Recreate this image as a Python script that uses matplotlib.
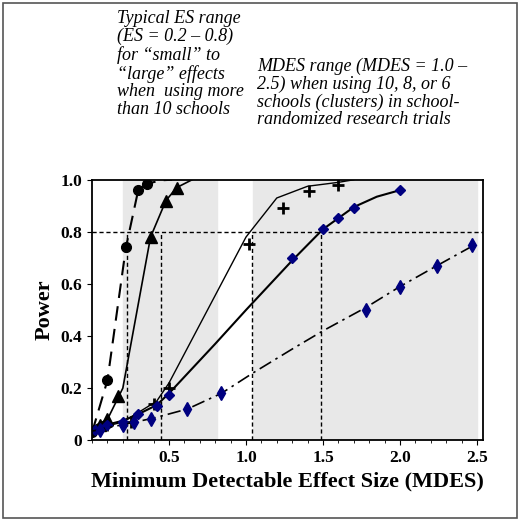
import matplotlib
matplotlib.use("Agg")
import matplotlib.pyplot as plt
from matplotlib.patches import Rectangle

circ_x = [0.0, 0.1, 0.22, 0.30, 0.36]
circ_y = [0.03, 0.23, 0.74, 0.96, 0.985]
circ_lx = [0.0, 0.1, 0.22, 0.30, 0.36, 0.45, 0.52]
circ_ly = [0.03, 0.23, 0.74, 0.96, 0.985, 0.998, 1.0]

tri_x = [0.05, 0.1, 0.17, 0.38, 0.48, 0.55]
tri_y = [0.06, 0.08, 0.17, 0.78, 0.92, 0.97]
tri_lx = [0.0, 0.1, 0.2, 0.38, 0.48, 0.55, 0.65]
tri_ly = [0.05, 0.08, 0.2, 0.78, 0.92, 0.97, 1.0]

plus_x = [0.1, 0.25, 0.4, 0.5, 1.02, 1.24, 1.41, 1.6]
plus_y = [0.06, 0.07, 0.14, 0.20, 0.755, 0.89, 0.955, 0.98]
plus_lx = [0.0, 0.2, 0.42, 0.5, 1.0, 1.2, 1.4, 1.6, 1.7]
plus_ly = [0.04, 0.07, 0.15, 0.22, 0.78, 0.93, 0.975, 0.99, 1.0]

dia_x = [0.02, 0.1, 0.2, 0.3, 0.42, 0.5, 1.3, 1.5, 1.6, 1.7, 2.0]
dia_y = [0.04, 0.06, 0.07, 0.10, 0.13, 0.175, 0.70, 0.81, 0.855, 0.89, 0.96]
dia_lx = [0.0, 0.1, 0.2, 0.3, 0.42, 0.5, 0.8, 1.0, 1.3, 1.5, 1.7, 1.85, 2.0]
dia_ly = [0.04, 0.06, 0.075, 0.10, 0.135, 0.18, 0.37, 0.50, 0.69, 0.81, 0.895, 0.935, 0.96]

dd_x = [0.05, 0.2, 0.27, 0.38, 0.62, 0.84, 1.78, 2.0, 2.24, 2.47]
dd_y = [0.04, 0.06, 0.07, 0.08, 0.12, 0.18, 0.50, 0.59, 0.67, 0.75]
dd_lx = [0.0, 0.2, 0.4, 0.62, 0.84, 1.05, 1.3, 1.5, 1.78, 2.0, 2.24, 2.5]
dd_ly = [0.035, 0.06, 0.085, 0.12, 0.18, 0.26, 0.35, 0.42, 0.51, 0.59, 0.67, 0.755]

vlines = [0.23, 0.45, 1.04, 1.49]

fig = plt.figure(figsize=(5.2, 5.21), dpi=100)
fig.add_artist(Rectangle((0.006, 0.006), 0.988, 0.988, transform=fig.transFigure,
                         fill=False, edgecolor="#555555", lw=1.2))
ax = fig.add_axes([0.177, 0.155, 0.752, 0.5])
ax.set_xlim(0, 2.54)
ax.set_ylim(0, 1.0)
ax.axvspan(0.2, 0.81, color="#e8e8e8", zorder=0)
ax.axvspan(1.045, 2.5, color="#e8e8e8", zorder=0)
ax.axhline(0.8, color="black", ls=(0, (3, 2)), lw=1)
for v in vlines:
    ax.plot([v, v], [0, 0.8], color="black", ls=(0, (3, 2)), lw=1)

ax.plot(circ_lx, circ_ly, color="black", ls=(0, (7, 4)), lw=1.5)
ax.plot(circ_x, circ_y, "o", color="black", ms=7)
ax.plot(tri_lx, tri_ly, color="black", lw=1.2)
ax.plot(tri_x, tri_y, "^", color="black", ms=8)
ax.plot(plus_lx, plus_ly, color="black", lw=1)
ax.plot(plus_x, plus_y, "+", color="black", ms=9, mew=2)
ax.plot(dia_lx, dia_ly, color="black", lw=1.5)
ax.plot(dia_x, dia_y, "D", color="#000080", ms=5)
ax.plot(dd_lx, dd_ly, color="black", lw=1.2, ls=(0, (8, 3, 1.5, 3)))
ax.plot(dd_x, dd_y, "d", color="#000080", ms=7.5)

ax.set_xticks([0.5, 1.0, 1.5, 2.0, 2.5])
ax.set_xticklabels(["0.5", "1.0", "1.5", "2.0", "2.5"])
ax.set_xticks([i * 0.1 for i in range(26)], minor=True)
ax.set_yticks([0, 0.2, 0.4, 0.6, 0.8, 1.0])
ax.set_yticklabels(["0", "0.2", "0.4", "0.6", "0.8", "1.0"])
for lab in ax.get_xticklabels() + ax.get_yticklabels():
    lab.set_fontfamily("Liberation Serif"); lab.set_fontweight("bold"); lab.set_fontsize(12.5)
ax.tick_params(direction="out")
for s in ax.spines.values():
    s.set_linewidth(1.3)
ax.set_xlabel("Minimum Detectable Effect Size (MDES)", family="Liberation Serif",
              fontweight="bold", fontsize=16)
ax.set_ylabel("Power", family="Liberation Serif", fontweight="bold", fontsize=16)

fig.text(0.225, 0.98, "Typical ES range\n(ES = 0.2 – 0.8)\nfor “small” to\n“large” effects\nwhen  using more\nthan 10 schools",
         family="Liberation Serif", style="italic", fontsize=13, va="top", linespacing=1.05)
fig.text(0.495, 0.89, "MDES range (MDES = 1.0 –\n2.5) when using 10, 8, or 6\nschools (clusters) in school-\nrandomized research trials",
         family="Liberation Serif", style="italic", fontsize=13, va="top", linespacing=1.05)
fig.savefig("out.png", dpi=100)
